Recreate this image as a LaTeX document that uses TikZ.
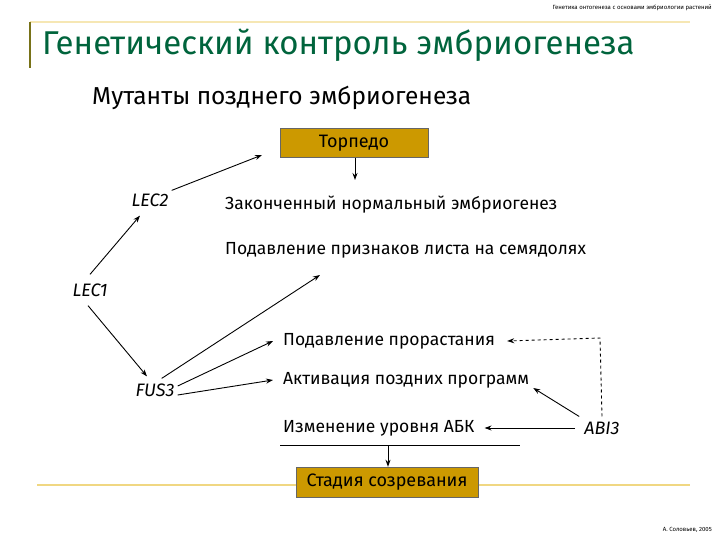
\documentclass[tikz,border=0pt]{standalone}
\usepackage{fontspec}
\setmainfont{Fira Sans}
\usetikzlibrary{arrows.meta}
\definecolor{gold}{RGB}{204,153,0}
\definecolor{palegold}{RGB}{240,215,130}
\definecolor{titlegreen}{RGB}{0,100,60}
\tikzset{
  txt/.style={anchor=west,inner sep=0pt,font=\fontsize{17.5}{20}\selectfont},
  gene/.style={inner sep=1pt,font=\fontsize{18}{20}\selectfont\itshape},
  goldbox/.style={fill=gold,draw=black!60,line width=0.4pt,minimum height=29pt,inner sep=0pt,font=\fontsize{18}{20}\selectfont},
  arr/.style={-{Stealth[length=7pt,width=5pt]},line width=0.9pt},
}
\begin{document}
\begin{tikzpicture}[x=1pt,y=-1pt]
\useasboundingbox (0,0) rectangle (720,540);
% header decoration
\draw[palegold!60,line width=1.2pt] (30,22) -- (690,22);
\draw[olive!80!black,line width=1.5pt] (30,22) -- (30,68);
\draw[palegold,line width=2pt] (37,485) -- (690,485);
\node[anchor=east,inner sep=0pt,font=\fontsize{6}{7}\selectfont] (hdr) at (712,8) {Генетика онтогенеза с основами эмбриологии растений};
\node[anchor=west,inner sep=0pt,text=titlegreen,font=\fontsize{33}{36}\selectfont] (title) at (42,45) {Генетический контроль эмбриогенеза};
\node[anchor=west,inner sep=0pt,font=\fontsize{24.5}{27}\selectfont] (sub) at (92,98) {Мутанты позднего эмбриогенеза};
% nodes
\node[goldbox,minimum width=148pt] (torp) at (354,143) {Торпедо};
\node[gene] (lec2) at (150,200) {LEC2};
\node[gene] (lec1) at (90,290) {LEC1};
\node[gene] (fus3) at (155,390) {FUS3};
\node[gene] (abi3) at (602,428) {ABI3};
\node[txt] (zak) at (225,205) {Законченный нормальный эмбриогенез};
\node[txt] (podl) at (225,250) {Подавление признаков листа на семядолях};
\node[txt] (podp) at (283,341) {Подавление прорастания};
\node[txt] (akt) at (283,380) {Активация поздних программ};
\node[txt] (izm) at (283,428) {Изменение уровня АБК};
\node[goldbox,minimum width=182pt,minimum height=30pt] (stad) at (387,482) {Стадия созревания};
% helper coordinates
\coordinate (t1) at (262,155);
\coordinate (t2) at (355,180);
\coordinate (p1) at (320,275);
\coordinate (ul) at (280,445);
\coordinate (ur) at (520,445);
\coordinate (um) at (388,445);
\coordinate (dc) at (600,338);
% connectors
\draw[arr] (torp.south -| t2) -- (t2);
\draw[arr] ([shift={(2,-2)}]lec2.north east) -- (t1);
\draw[arr] ([shift={(0,-8)}]lec1.north) -- ([shift={(-10,8)}]lec2.south);
\draw[arr] ([shift={(-2,8)}]lec1.south) -- ([shift={(-8,-6)}]fus3.north);
\draw[arr] ([shift={(-14,-4)}]fus3.north east) -- (p1);
\draw[arr] ([shift={(2,-4)}]fus3.east) -- ([xshift=-10pt]podp.west);
\draw[arr] ([shift={(2,5)}]fus3.east) -- ([xshift=-10pt]akt.west);
\draw[arr] ([xshift=-8pt]abi3.west) -- ([xshift=10pt]izm.east);
\draw[arr] ([shift={(-4,-4)}]abi3.north west) -- ([shift={(4,8)}]akt.east);
\draw[arr,dashed] ([yshift=4pt]abi3.north) -- (dc) -- ([xshift=12pt]podp.east);
\draw[line width=0.9pt] (ul) -- (ur);
\draw[arr] (um) -- (stad.north -| um);
\node[anchor=east,inner sep=0pt,font=\fontsize{6}{7}\selectfont] (auth) at (712,530) {А. Соловьев, 2005};
\end{tikzpicture}
\end{document}
